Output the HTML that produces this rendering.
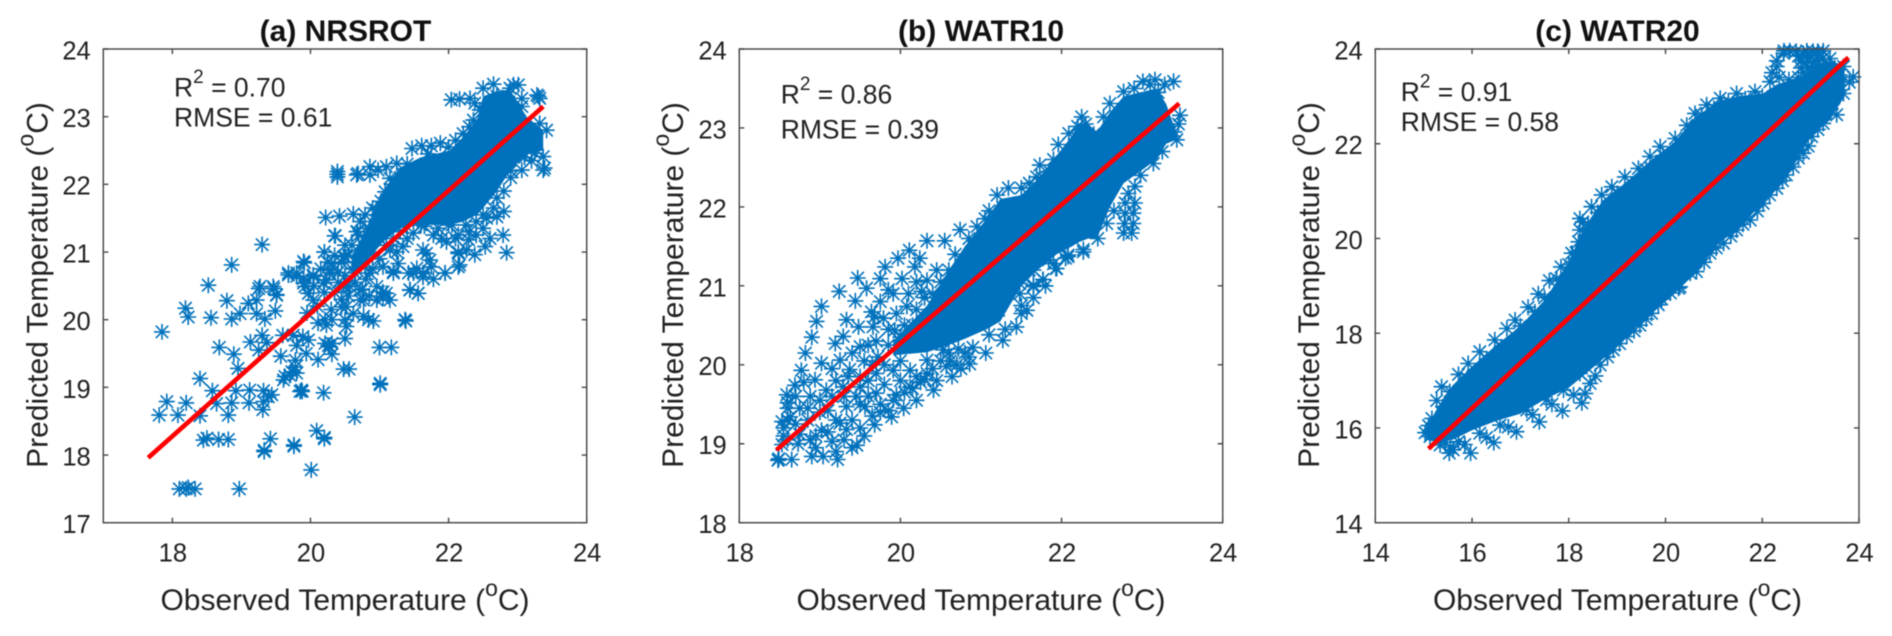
<!DOCTYPE html>
<html lang="en">
<head>
<meta charset="utf-8">
<title>Observed vs Predicted Temperature</title>
<style>
html,body{margin:0;padding:0;background:#fff;width:1892px;height:636px;overflow:hidden}
svg{display:block;filter:blur(0.4px)}
text{font-family:"Liberation Sans",Arial,sans-serif;fill:#222}
.title{font-size:30px;font-weight:bold;fill:#111;text-anchor:middle}
.axis-label{font-size:30px;text-anchor:middle}
.note{font-size:26.5px}
.tick-label{font-size:25.5px}
</style>
</head>
<body>
<svg id="figure" xmlns="http://www.w3.org/2000/svg" width="1892" height="636" viewBox="0 0 1892 636">
  <rect width="1892" height="636" fill="#fff"/>

  <g id="panel-a"></g>
  <g id="panel-b"></g>
  <g id="panel-c"></g>

  <text class="title" x="345.5" y="41">(a) NRSROT</text>
  <text class="title" x="981" y="41">(b) WATR10</text>
  <text class="title" x="1617.5" y="41">(c) WATR20</text>

  <text class="axis-label" x="345" y="610">Observed Temperature (<tspan dy="-14" font-size="23">o</tspan><tspan dy="14">C)</tspan></text>
  <text class="axis-label" x="981" y="610">Observed Temperature (<tspan dy="-14" font-size="23">o</tspan><tspan dy="14">C)</tspan></text>
  <text class="axis-label" x="1617.5" y="610">Observed Temperature (<tspan dy="-14" font-size="23">o</tspan><tspan dy="14">C)</tspan></text>

  <text class="axis-label" transform="translate(47.5 285) rotate(-90)">Predicted Temperature (<tspan dy="-14" font-size="23">o</tspan><tspan dy="14">C)</tspan></text>
  <text class="axis-label" transform="translate(683 285) rotate(-90)">Predicted Temperature (<tspan dy="-14" font-size="23">o</tspan><tspan dy="14">C)</tspan></text>
  <text class="axis-label" transform="translate(1319 285) rotate(-90)">Predicted Temperature (<tspan dy="-14" font-size="23">o</tspan><tspan dy="14">C)</tspan></text>

  <text class="note" x="174" y="96.7">R<tspan dy="-13.5" font-size="19">2</tspan><tspan dy="13.5"> = 0.70</tspan></text>
  <text class="note" x="174" y="126.7">RMSE = 0.61</text>
  <text class="note" x="780.7" y="103.3">R<tspan dy="-13.5" font-size="19">2</tspan><tspan dy="13.5"> = 0.86</tspan></text>
  <text class="note" x="780.7" y="138.3">RMSE = 0.39</text>
  <text class="note" x="1400.7" y="101">R<tspan dy="-13.5" font-size="19">2</tspan><tspan dy="13.5"> = 0.91</tspan></text>
  <text class="note" x="1400.7" y="131">RMSE = 0.58</text>
</svg>

<script>
/* ---------- axis values ---------- */
const xTicksA = [18, 20, 22, 24];
const yTicksA = [17, 18, 19, 20, 21, 22, 23, 24];
const xTicksB = [18, 20, 22, 24];
const yTicksB = [18, 19, 20, 21, 22, 23, 24];
const xTicksC = [14, 16, 18, 20, 22, 24];
const yTicksC = [14, 16, 18, 20, 22, 24];

/* ---------- fit lines: observed, predicted ---------- */
const fitObservedA = [17.65, 23.37];
const fitPredictedA = [17.96, 23.15];
const fitObservedB = [18.46, 23.46];
const fitPredictedB = [18.92, 23.31];
const fitObservedC = [15.10, 23.78];
const fitPredictedC = [15.56, 23.82];

/* ---------- saturated regions, where the asterisks merge into solid colour ---------- */
const coreObservedA = [20.6, 20.76, 21.05, 21.3, 21.6, 22.02, 22.21, 22.41, 22.5, 22.7, 22.89, 23.13, 23.37];
const coreHighA = [20.95, 21.25, 21.9, 22.25, 22.4, 22.5, 22.7, 22.95, 23.3, 23.38, 23.4, 23.0, 22.8];
const coreLowA = [20.6, 20.8, 21.15, 21.35, 21.4, 21.4, 21.45, 21.55, 21.65, 21.9, 22.2, 22.45, 22.5];

const coreObservedB = [19.91, 20.33, 20.6, 20.8, 21.07, 21.24, 21.5, 21.7, 21.94, 22.13, 22.21, 22.33, 22.44, 22.6, 22.77, 23.18, 23.3, 23.42];
const coreHighB = [20.3, 20.75, 21.2, 21.5, 21.85, 22.1, 22.15, 22.35, 22.65, 22.9, 23.05, 23.05, 22.95, 23.2, 23.4, 23.5, 23.3, 22.95];
const coreLowB = [20.12, 20.16, 20.25, 20.33, 20.45, 20.55, 21.0, 21.2, 21.4, 21.5, 21.55, 21.6, 21.6, 22.0, 22.3, 22.6, 22.8, 22.85];

const coreObservedC = [15.05, 15.3, 15.6, 16.0, 16.5, 17.0, 17.5, 18.0, 18.3, 18.7, 19.2, 19.7, 20.2, 20.6, 21.1, 21.5, 22.0, 22.3, 22.6, 23.0, 23.4, 23.7];
const coreHighC = [16.0, 16.45, 16.9, 17.3, 17.75, 18.15, 18.7, 19.5, 20.2, 20.8, 21.2, 21.65, 22.05, 22.55, 22.9, 23.0, 23.05, 23.25, 23.35, 23.5, 23.75, 23.65];
const coreLowC = [15.75, 15.7, 15.75, 15.95, 16.15, 16.3, 16.6, 16.85, 17.1, 17.45, 17.95, 18.4, 18.85, 19.25, 19.9, 20.2, 20.75, 21.1, 21.45, 22.15, 22.5, 23.0];

/* ---------- scatter samples: [observed, predicted] ---------- */
const samplesA = [
[18.10,17.50],[18.20,17.50],[18.23,17.52],[18.33,17.50],[18.97,17.50],[20.01,17.78],
[19.30,21.11],[18.86,20.81],[18.52,20.51],[18.19,20.17],[18.23,20.04],[18.56,20.03],[18.86,20.01],[18.79,20.28],[18.98,20.09],[19.10,20.24],
[19.25,20.46],[19.22,20.29],[19.47,20.46],[19.51,20.36],[19.49,20.13],[19.34,20.01],[19.22,20.09],[17.85,19.82],[18.68,19.59],[18.89,19.49],
[19.13,19.67],[19.30,19.77],[19.37,19.66],[19.25,19.55],[19.60,19.77],[19.57,19.46],[19.80,19.62],[19.89,19.75],[19.97,19.70],[19.75,19.77],
[18.95,19.28],[18.40,19.13],[18.58,18.95],[18.92,18.95],[19.12,18.96],[19.32,18.95],[19.39,18.86],[19.44,18.89],[19.32,18.79],[18.86,18.77],
[19.11,18.77],[18.64,18.76],[19.31,18.67],[17.92,18.79],[18.20,18.77],[17.81,18.59],[18.08,18.59],[18.40,18.58],[18.81,18.59],[18.45,18.22],
[18.50,18.25],[18.67,18.23],[18.81,18.23],[19.42,18.24],[19.33,18.07],[19.33,18.05],[19.76,18.15],[19.76,18.13],[20.09,18.36],[20.20,18.24],
[20.20,18.26],[20.64,18.56],[20.19,18.92],[19.87,18.96],[19.88,18.94],[19.85,18.94],[21.01,19.06],[21.01,19.04],[21.00,19.59],[21.17,19.59],
[20.48,19.27],[20.56,19.27],[20.11,19.41],[20.31,19.49],[20.26,19.62],[20.28,19.60],[20.31,19.65],[20.21,19.65],[20.50,19.72],[19.94,19.50],
[19.78,19.40],[19.78,19.30],[19.73,19.23],[19.63,19.16],[19.61,19.11],[19.80,19.21],[19.70,19.18],[21.37,20.00],[21.38,19.98],[20.91,19.98],
[20.84,20.00],[20.77,20.05],[20.52,19.90],[20.50,20.00],[20.62,20.09],[20.21,20.00],[20.11,19.95],[20.31,20.00],[20.23,19.92],[20.04,20.29],
[19.92,20.49],[19.90,20.86],[19.68,20.69],[19.80,20.64],[19.90,20.61],[20.04,20.66],[20.20,21.00],[20.36,21.24],[20.67,21.30],[20.31,20.83],
[20.50,20.93],[20.28,20.69],[20.19,20.54],[20.48,20.49],[20.77,20.29],[20.57,20.49],[20.72,20.29],[20.52,20.19],[20.45,20.19],[21.05,20.32],
[20.96,20.29],[21.15,20.29],[21.05,20.41],[21.20,20.71],[21.49,20.69],[21.63,20.63],[21.78,20.60],[21.95,20.69],[22.16,20.81],[22.14,20.98],
[21.44,20.44],[21.56,20.39],[21.44,20.44],[19.91,20.84],[20.20,21.00],[20.35,21.24],[20.68,21.30],[20.22,21.51],[20.42,21.53],[20.62,21.56],
[20.79,21.55],[20.39,22.15],[20.39,22.19],[20.39,22.11],[20.67,22.14],[20.69,22.16],[20.86,22.14],[20.98,22.21],[20.86,22.26],[21.10,22.26],
[21.25,22.31],[21.15,22.09],[21.20,22.00],[21.08,21.89],[21.47,22.53],[21.61,22.57],[21.75,22.57],[21.88,22.61],[22.04,23.25],[22.16,23.26],
[22.31,23.27],[22.50,23.42],[22.65,23.48],[22.94,23.47],[23.01,23.47],[22.89,23.42],[23.30,23.30],[23.28,23.32],[23.32,23.27],[23.06,23.27],
[23.06,23.15],[23.42,22.80],[23.32,22.90],[23.37,22.41],[23.37,22.21],[23.39,22.24],[23.06,22.21],[23.25,22.46],[23.03,22.93],[22.21,22.75],
[22.36,22.95],[22.45,23.10],[22.38,23.20],[22.79,21.25],[22.84,20.99],[22.70,21.52],[22.60,21.20],[22.53,21.08],[22.38,20.96],[22.26,21.03],
[22.14,21.00],[22.14,21.25],[21.97,21.15],[21.78,21.25],[22.40,21.25],[22.29,21.18],[22.14,20.78],[21.95,20.69],[21.73,20.88],[21.68,20.98],
[21.63,21.03],[21.75,20.78],[21.56,20.39],[21.44,20.44],[21.42,20.69],[21.54,20.76],[21.63,20.69],[21.20,20.69],[20.96,20.49],[21.10,20.39],
[20.81,21.03],[20.98,21.23],[21.15,21.03],[21.34,21.08],[21.49,21.28],[21.27,20.83],[21.05,20.78],[20.79,20.78],[20.64,20.69],[20.48,20.93],
[20.28,20.73],[20.23,20.59],[20.04,20.64],[19.90,20.54],[19.80,20.69],[19.68,20.66],[19.27,20.49],[19.46,20.49],[19.51,20.37],[19.97,20.39],
[20.52,20.49],[20.72,20.44],[20.86,20.69],[20.90,21.65],[21.02,21.75],[21.35,22.15],[22.70,23.30],[22.85,23.30],[23.12,22.75],[23.25,22.65],
[22.90,22.20],[22.70,21.80],[22.80,21.60],[22.55,21.50],[22.40,21.45],[22.00,21.40],[21.65,21.38],[21.30,21.30],
[20.40,20.70],[20.50,20.65],[20.60,20.75],[20.45,20.85],[20.55,20.95],[20.70,20.85],[20.80,20.60],[20.90,20.75],[21.00,20.90],[20.90,21.00],
[21.10,21.10],[21.20,21.20],[21.25,21.00],[21.40,21.20],[21.00,21.50],[20.85,21.35],[20.70,21.25],[20.60,21.10],[20.50,21.10],[20.35,20.95],
[20.25,20.85],[20.15,20.75],[20.05,20.50],[20.20,20.40],[20.35,20.40],[20.40,20.55],[20.55,20.35],[20.65,20.55],[20.75,20.45],[20.85,20.35],
[20.30,20.15],[20.45,20.30],[20.10,20.20],[19.95,20.10],[21.60,21.40],[21.85,21.35],[22.05,21.40],[22.25,21.40],[22.50,21.55],[22.65,21.65],
[22.80,21.90],[22.90,22.10],[23.10,22.40],[23.20,22.35],[22.50,21.35],[22.30,21.30],[22.10,21.20],[21.90,21.20],[20.72,21.45],[20.95,21.62],
[21.25,21.95],[21.30,22.10],[21.40,22.30],[21.70,22.45],[22.00,22.55],[22.10,22.65],[22.30,22.85]
];

const samplesB = [
[19.02,20.74],[19.24,20.93],[19.47,21.10],[19.44,20.81],[19.58,20.97],[18.96,20.55],[18.90,20.35],[18.82,20.15],[19.33,20.57],[19.48,20.48],
[19.68,20.61],[19.79,20.59],[19.66,20.48],[19.75,21.09],[19.81,21.24],[19.97,21.35],[20.11,21.45],[20.33,21.57],[20.55,21.57],[20.74,21.71],
[20.24,21.35],[20.18,21.24],[20.02,21.09],[19.85,20.95],[19.91,20.90],[19.75,20.80],[19.64,20.67],[20.08,20.74],[20.26,20.93],[20.45,21.20],
[20.33,21.07],[19.93,20.44],[19.29,20.36],[19.19,20.27],[19.50,20.23],[19.02,20.02],[19.25,20.06],[18.77,19.93],[18.59,19.62],[18.69,19.74],
[18.94,19.81],[18.88,19.60],[18.75,19.45],[18.53,19.28],[18.63,19.34],[18.53,18.99],[18.48,18.79],[18.49,18.81],[18.65,18.80],[18.90,18.84],
[19.04,18.84],[19.22,18.80],[19.46,18.98],[19.33,19.18],[19.25,19.26],[19.15,19.03],[19.02,19.17],[18.88,19.05],[18.73,19.00],[19.68,19.24],
[19.89,19.34],[19.56,19.47],[19.33,19.47],[20.04,19.45],[20.20,19.55],[20.41,19.68],[20.64,19.85],[20.86,20.01],[21.06,20.15],[21.27,20.31],
[21.44,20.48],[21.57,20.69],[21.77,21.08],[21.93,21.22],[22.08,21.39],[22.27,21.43],[20.80,20.15],[20.57,19.98],[20.33,19.89],[20.12,19.72],
[19.91,19.55],[19.70,19.64],[19.50,19.72],[19.29,19.72],[19.08,19.68],[19.70,19.89],[19.91,19.93],[20.12,19.93],[20.33,20.06],[20.53,20.19],
[19.37,19.94],[21.65,21.01],[21.48,21.03],[21.40,21.14],[21.28,21.19],[21.22,20.69],[21.50,20.75],[21.10,20.80],[21.60,21.20],[22.05,21.35],
[21.94,21.22],[21.77,21.08],[22.08,21.37],[21.84,21.33],[21.65,21.20],[21.65,20.99],[21.48,20.90],[22.27,21.46],[21.32,20.95],[22.56,21.79],
[22.77,21.67],[22.87,21.67],[22.78,21.79],[22.89,21.79],[22.79,21.92],[22.89,21.92],[22.79,22.05],[22.91,22.05],[22.83,22.17],[22.91,22.26],
[22.09,22.93],[21.96,22.79],[21.73,22.53],[21.69,22.38],[21.34,22.24],[21.50,22.24],[21.78,22.36],[22.52,23.14],[22.60,23.31],[23.39,23.59],
[23.28,23.55],[23.16,23.61],[23.47,23.16],[23.43,22.85],[23.14,22.55],[22.25,23.14],[22.77,23.46],[23.01,23.59],[22.90,23.50],[23.10,23.55],
[22.20,23.02],[22.30,23.05],[21.90,22.60],[21.85,22.45],[21.60,22.30],[21.20,22.15],[21.05,21.85],[20.95,21.75],[20.85,21.60],[20.68,21.40],
[20.60,21.20],[20.50,21.05],[20.40,20.90],[20.30,20.60],[20.15,20.50],[20.00,20.35],[19.85,20.25],[19.60,20.25],[19.72,20.10],[19.55,20.05],
[19.40,20.15],[19.15,19.95],[19.00,19.55],[18.80,19.78],[18.60,19.52],[18.55,19.20],[18.70,19.25],[18.85,19.30],[19.10,19.42],[19.40,19.30],
[19.55,19.10],[19.40,18.95],[19.10,19.15],[18.95,18.95],[19.20,18.90],[18.75,19.12],[20.62,20.05],[20.72,20.20],[20.25,19.78],[20.05,19.65],
[21.90,21.28],[22.45,21.60],[22.65,21.95],[22.98,22.40],[23.25,22.70],[23.40,22.95],[23.45,23.05],[23.20,23.45],[22.40,22.92],
[19.60,19.60],[19.80,19.75],[20.00,19.80],[20.20,19.85],[20.40,19.95],[20.50,20.05],[19.75,19.50],[19.95,19.62],[20.15,19.70],[20.30,19.82],
[19.50,19.50],[19.65,19.35],[19.85,19.42],[19.60,19.80],[19.80,20.00],[20.00,20.05],[19.45,19.60],[19.30,19.60],[19.15,19.60],[19.20,19.80],
[19.35,19.85],[19.00,19.40],[19.20,19.30],[18.60,19.45],[18.70,19.60],[18.85,19.45],[18.60,19.30],[19.50,19.85],[19.65,20.00],[20.70,20.00],
[20.85,20.10],[20.60,20.15],[20.90,20.22],[21.10,20.38],[21.30,20.45],[21.50,20.65],[21.65,20.85],[21.80,21.00],[20.10,20.90],[20.20,21.05],
[19.95,20.65],[20.05,20.50],[20.20,20.70],[20.30,20.85],[19.85,20.45],[19.70,20.30],[20.00,20.30],[18.55,19.10],[18.60,19.05],[18.95,19.10],
[19.30,19.05],[19.50,19.20],[19.75,19.40],[20.45,19.80],[20.75,19.95],[20.50,20.65],[20.60,20.90],[20.75,21.25],[20.90,21.50],[21.10,21.95]
];

const samplesC = [
[15.37,16.87],[15.27,16.58],[15.03,15.90],[15.17,16.20],[15.54,16.77],[15.72,17.13],[15.92,17.36],[16.16,17.61],[16.47,17.86],[16.72,18.10],
[16.89,18.28],[17.16,18.55],[17.37,18.83],[17.60,19.11],[17.84,19.40],[18.06,19.69],[18.20,19.93],[18.23,20.18],[18.29,20.35],[18.23,20.42],
[18.47,20.67],[18.68,20.92],[18.89,21.09],[19.16,21.30],[19.44,21.48],[19.68,21.73],[19.89,21.94],[20.20,22.11],[20.44,22.39],[20.61,22.64],
[20.85,22.82],[21.13,22.96],[21.47,23.06],[21.85,23.10],[22.16,23.31],[22.30,23.63],[22.44,23.91],[22.57,23.96],[22.92,23.96],[23.26,23.96],
[23.40,23.80],[23.68,23.63],[23.88,23.41],[23.68,23.06],[23.54,22.61],[23.26,22.43],[23.02,22.15],[22.85,21.80],[22.64,21.51],[22.50,21.34],
[22.30,21.06],[22.02,20.74],[21.75,20.39],[21.47,20.18],[21.20,19.90],[20.92,19.69],[20.64,19.30],[20.23,19.19],[20.30,18.98],[20.51,19.27],
[20.27,18.95],[19.92,18.72],[19.71,18.42],[19.47,18.17],[19.20,17.93],[18.92,17.65],[18.65,17.33],[18.44,16.94],[18.34,16.73],[18.27,16.53],
[17.87,16.36],[17.39,16.13],[16.92,15.92],[16.45,15.69],[15.97,15.47],[15.53,15.47],[15.61,15.54],[15.72,15.71],[15.34,15.64],[15.13,15.82],
[16.16,15.89],[16.58,16.06],[17.13,16.38],[17.54,16.59],[17.89,16.80],[18.23,17.15],[22.75,23.85],[22.85,23.90],[23.00,23.85],[23.15,23.85],
[22.90,23.70],[23.05,23.65],[23.20,23.65],[22.85,23.50],[23.00,23.50],[23.30,23.60],[22.45,23.96],[22.30,23.75],[22.20,23.50],[22.35,23.40],
[22.55,23.35],[22.75,23.40],[15.55,15.60],[15.45,15.70],[15.20,15.95],[15.10,16.05],[15.40,16.45],[15.90,17.05],[16.30,17.45],[16.60,17.70],
[17.00,18.15],[17.30,18.45],[17.50,18.75],[17.75,19.15],[18.00,19.45],[18.15,19.70],[18.40,20.30],[18.60,20.55],[19.00,20.95],[19.30,21.15],
[19.60,21.45],[19.95,21.75],[20.30,22.00],[20.50,22.20],[20.75,22.60],[21.00,22.75],[21.30,22.90],[21.65,22.95],[22.00,23.00],[23.45,23.20],
[23.60,23.25],[23.80,23.30],[23.45,22.85],[23.30,22.65],[23.15,22.30],[22.95,21.95],[22.75,21.70],[22.42,21.22],[22.15,20.92],[21.90,20.58],
[21.60,20.30],[21.35,20.05],[21.05,19.80],[20.80,19.50],[20.45,19.35],[20.10,18.85],[19.85,18.60],[19.60,18.30],[19.35,18.05],[19.05,17.78],
[18.80,17.50],[18.55,17.10],[18.10,16.70],[17.65,16.50],[17.25,16.28],[16.75,16.02],[16.30,15.80],[15.85,15.65],
[22.80,23.75],[22.95,23.80],[23.10,23.75],[23.25,23.80],[22.95,23.60],[23.15,23.60],[23.30,23.45],[23.10,23.50],[22.80,23.60],[22.70,23.95],
[23.05,23.95],[23.15,23.95],[23.50,23.60],[23.60,23.45],[23.00,23.35],[23.25,23.30]
];

/* ---------- renderer ---------- */
const SVG_NS = 'http://www.w3.org/2000/svg';
const MARKER_COLOR = '#0071bc';
const AXIS_COLOR = '#444';

function svgEl(tag) {
  return document.createElementNS(SVG_NS, tag);
}

function envelopePath(observed, high, low, sx, sy) {
  const upper = observed.map(function (v, i) { return sx(v).toFixed(1) + ' ' + sy(high[i]).toFixed(1); });
  const lower = observed.map(function (v, i) { return sx(v).toFixed(1) + ' ' + sy(low[i]).toFixed(1); }).reverse();
  return 'M' + upper.concat(lower).join('L') + 'Z';
}

function asteriskPath(cx, cy) {
  const r = 8, d = 6.2;
  const x = cx.toFixed(1), y = cy.toFixed(1);
  return 'M' + x + ' ' + (cy - r).toFixed(1) + 'V' + (cy + r).toFixed(1) +
    'M' + (cx - r).toFixed(1) + ' ' + y + 'H' + (cx + r).toFixed(1) +
    'M' + (cx - d).toFixed(1) + ' ' + (cy - d).toFixed(1) + 'L' + (cx + d).toFixed(1) + ' ' + (cy + d).toFixed(1) +
    'M' + (cx - d).toFixed(1) + ' ' + (cy + d).toFixed(1) + 'L' + (cx + d).toFixed(1) + ' ' + (cy - d).toFixed(1);
}

function drawPanel(p) {
  const g = document.getElementById(p.id);
  const sx = function (v) { return p.left + (v - p.xMin) / (p.xMax - p.xMin) * (p.right - p.left); };
  const sy = function (v) { return p.bottom - (v - p.yMin) / (p.yMax - p.yMin) * (p.bottom - p.top); };

  const core = svgEl('path');
  
  
  core.setAttribute('d', envelopePath(p.coreObserved, p.coreHigh, p.coreLow, sx, sy));
  core.setAttribute('fill', MARKER_COLOR);
  g.appendChild(core);

  p.samples.forEach(function (s) {
    const m = svgEl('path');
    
    
    m.setAttribute('d', asteriskPath(sx(s[0]), sy(s[1])));
    m.setAttribute('stroke', MARKER_COLOR);
    m.setAttribute('stroke-width', '1.6');
    m.setAttribute('fill', 'none');
    g.appendChild(m);
  });

  const fit = svgEl('line');
  
  
  fit.setAttribute('x1', sx(p.fitObserved[0]));
  fit.setAttribute('y1', sy(p.fitPredicted[0]));
  fit.setAttribute('x2', sx(p.fitObserved[1]));
  fit.setAttribute('y2', sy(p.fitPredicted[1]));
  fit.setAttribute('stroke', '#ff0000');
  fit.setAttribute('stroke-width', '4.6');
  g.appendChild(fit);

  const box = svgEl('rect');
  
  
  box.setAttribute('x', p.left);
  box.setAttribute('y', p.top);
  box.setAttribute('width', p.right - p.left);
  box.setAttribute('height', p.bottom - p.top);
  box.setAttribute('fill', 'none');
  box.setAttribute('stroke', AXIS_COLOR);
  box.setAttribute('stroke-width', '1.4');
  g.appendChild(box);

  p.xTicks.forEach(function (t) {
    const x = sx(t);
    const marks = svgEl('path');
    
    
    marks.setAttribute('d', 'M' + x + ' ' + p.bottom + 'v-5M' + x + ' ' + p.top + 'v5');
    marks.setAttribute('stroke', AXIS_COLOR);
    marks.setAttribute('stroke-width', '1.4');
    g.appendChild(marks);
    const label = svgEl('text');
    
    
    label.setAttribute('class', 'tick-label');
    label.setAttribute('x', x + 0.5);
    label.setAttribute('y', 561.7);
    label.setAttribute('text-anchor', 'middle');
    label.textContent = t;
    g.appendChild(label);
  });

  p.yTicks.forEach(function (t) {
    const y = sy(t);
    const marks = svgEl('path');
    
    
    marks.setAttribute('d', 'M' + p.left + ' ' + y + 'h5M' + p.right + ' ' + y + 'h-5');
    marks.setAttribute('stroke', AXIS_COLOR);
    marks.setAttribute('stroke-width', '1.4');
    g.appendChild(marks);
    const label = svgEl('text');
    
    
    label.setAttribute('class', 'tick-label');
    label.setAttribute('x', p.left - 12.6);
    label.setAttribute('y', y + 10.4);
    label.setAttribute('text-anchor', 'end');
    label.textContent = t;
    g.appendChild(label);
  });
}

drawPanel({
  id: 'panel-a', left: 103.3, right: 586.7, top: 49, bottom: 522.7,
  xMin: 17, xMax: 24, yMin: 17, yMax: 24,
  xTicks: xTicksA, yTicks: yTicksA, samples: samplesA,
  coreObserved: coreObservedA, coreHigh: coreHighA, coreLow: coreLowA,
  fitObserved: fitObservedA, fitPredicted: fitPredictedA
});
drawPanel({
  id: 'panel-b', left: 739.3, right: 1222.7, top: 49, bottom: 522.7,
  xMin: 18, xMax: 24, yMin: 18, yMax: 24,
  xTicks: xTicksB, yTicks: yTicksB, samples: samplesB,
  coreObserved: coreObservedB, coreHigh: coreHighB, coreLow: coreLowB,
  fitObserved: fitObservedB, fitPredicted: fitPredictedB
});
drawPanel({
  id: 'panel-c', left: 1375.3, right: 1859, top: 49, bottom: 522.7,
  xMin: 14, xMax: 24, yMin: 14, yMax: 24,
  xTicks: xTicksC, yTicks: yTicksC, samples: samplesC,
  coreObserved: coreObservedC, coreHigh: coreHighC, coreLow: coreLowC,
  fitObserved: fitObservedC, fitPredicted: fitPredictedC
});
</script>
</body>
</html>
